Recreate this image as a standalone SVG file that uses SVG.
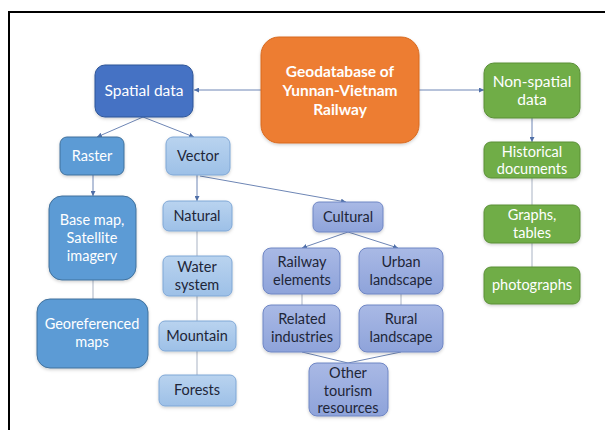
<svg xmlns="http://www.w3.org/2000/svg" width="605" height="430" viewBox="0 0 605 430">
<defs>
<linearGradient id="gLight" x1="0" y1="0" x2="0" y2="1"><stop offset="0" stop-color="#B9D3EF"/><stop offset="1" stop-color="#9DC0E7"/></linearGradient>
<linearGradient id="gCult" x1="0" y1="0" x2="0" y2="1"><stop offset="0" stop-color="#A9B9E5"/><stop offset="1" stop-color="#8EA3DA"/></linearGradient>
<filter id="sh" x="-10%" y="-10%" width="130%" height="130%"><feDropShadow dx="0" dy="1.5" stdDeviation="1.5" flood-color="#000" flood-opacity="0.18"/></filter>
<marker id="ar" viewBox="0 0 6 6" refX="6" refY="3" markerWidth="5" markerHeight="5" orient="auto" markerUnits="userSpaceOnUse"><path d="M0,0 L6,3 L0,6 z" fill="#4F6FA8"/></marker>
</defs>
<style>
text{font-family:"Lato","Liberation Sans",sans-serif;font-size:14.5px;text-anchor:middle}
.w{fill:#ffffff}
.d{fill:#1E2638}
.b{font-weight:bold;font-size:15.5px}
.dark{fill:#4472C4;stroke:#2F5597;stroke-width:1;filter:url(#sh)}
.mid{fill:#5B9BD5;stroke:#41719C;stroke-width:1;filter:url(#sh)}
.lt{fill:url(#gLight);stroke:#7FA7D6;stroke-width:1;filter:url(#sh)}
.cu{fill:url(#gCult);stroke:#6F86C4;stroke-width:1;filter:url(#sh)}
.gr{fill:#70AD47;stroke:#5A8F37;stroke-width:1;filter:url(#sh)}
.or{fill:#ED7D31;stroke:#D86A20;stroke-width:1;filter:url(#sh)}
.c{stroke:#6E86B5;stroke-width:1;fill:none}
.p{stroke:#A9B3C4;stroke-width:1;fill:none}
</style>
<rect x="9" y="12" width="620" height="440" fill="#ffffff" stroke="#000000" stroke-width="2"/>
<g id="connectors">
<line class="c" x1="261" y1="90" x2="194" y2="90" marker-end="url(#ar)"/>
<line class="c" x1="419" y1="90" x2="484" y2="90" marker-end="url(#ar)"/>
<line class="c" x1="532" y1="118" x2="532" y2="142" marker-end="url(#ar)"/>
<line class="p" x1="532" y1="178" x2="532" y2="205"/>
<line class="p" x1="532" y1="243" x2="532" y2="267"/>
<line class="c" x1="143" y1="117" x2="97" y2="137" marker-end="url(#ar)"/>
<line class="c" x1="143" y1="117" x2="194" y2="137" marker-end="url(#ar)"/>
<line class="c" x1="93" y1="175" x2="93" y2="196" marker-end="url(#ar)"/>
<line class="p" x1="93" y1="280" x2="93" y2="299"/>
<line class="c" x1="197" y1="175" x2="197" y2="201" marker-end="url(#ar)"/>
<line class="p" x1="197" y1="231" x2="197" y2="256"/>
<line class="p" x1="197" y1="296" x2="197" y2="321"/>
<line class="p" x1="197" y1="351" x2="197" y2="375"/>
<line class="c" x1="200" y1="176" x2="346" y2="202" marker-end="url(#ar)"/>
<line class="c" x1="348" y1="232" x2="302" y2="248" marker-end="url(#ar)"/>
<line class="c" x1="348" y1="232" x2="398" y2="248" marker-end="url(#ar)"/>
<line class="p" x1="302" y1="294" x2="302" y2="305"/>
<line class="p" x1="401" y1="294" x2="401" y2="305"/>
<line class="c" x1="302" y1="352" x2="348" y2="363"/>
<line class="c" x1="401" y1="352" x2="348" y2="363"/>
</g>
<g id="geodatabase"><rect class="or" x="261" y="37" width="158" height="106" rx="18"/>
<text class="w b" x="340" y="77">Geodatabase of</text><text class="w b" x="340" y="96">Yunnan-Vietnam</text><text class="w b" x="340" y="115">Railway</text></g>
<g id="spatial"><rect class="dark" x="95" y="65" width="98" height="52" rx="10"/><text class="w" x="144" y="96" style="font-size:15.5px">Spatial data</text></g>
<g id="nonspatial"><rect class="gr" x="484" y="63" width="96" height="55" rx="10"/><text class="w" x="532" y="87" style="font-size:15.5px">Non-spatial</text><text class="w" x="532" y="105" style="font-size:15.5px">data</text></g>
<g id="historical"><rect class="gr" x="484" y="142" width="96" height="36" rx="7"/><text class="w" x="532" y="157">Historical</text><text class="w" x="532" y="174">documents</text></g>
<g id="graphs"><rect class="gr" x="484" y="205" width="96" height="38" rx="7"/><text class="w" x="532" y="220">Graphs,</text><text class="w" x="532" y="238">tables</text></g>
<g id="photographs"><rect class="gr" x="484" y="267" width="96" height="37" rx="7"/><text class="w" x="532" y="290">photographs</text></g>
<g id="raster"><rect class="mid" x="60" y="137" width="64" height="38" rx="7"/><text class="w" x="92" y="161">Raster</text></g>
<g id="vector"><rect class="lt" x="166" y="137" width="64" height="38" rx="7"/><text class="d" x="198" y="161">Vector</text></g>
<g id="basemap"><rect class="mid" x="49" y="196" width="87" height="84" rx="13"/><text class="w" x="92" y="225">Base map,</text><text class="w" x="92" y="243">Satellite</text><text class="w" x="92" y="261">imagery</text></g>
<g id="georef"><rect class="mid" x="37" y="299" width="111" height="69" rx="13"/><text class="w" x="92" y="329">Georeferenced</text><text class="w" x="92" y="347">maps</text></g>
<g id="natural"><rect class="lt" x="163" y="201" width="69" height="30" rx="6"/><text class="d" x="197" y="221">Natural</text></g>
<g id="water"><rect class="lt" x="163" y="256" width="69" height="40" rx="6"/><text class="d" x="197" y="272">Water</text><text class="d" x="197" y="290">system</text></g>
<g id="mountain"><rect class="lt" x="159" y="321" width="77" height="30" rx="6"/><text class="d" x="197" y="341">Mountain</text></g>
<g id="forests"><rect class="lt" x="159" y="375" width="77" height="31" rx="6"/><text class="d" x="197" y="395">Forests</text></g>
<g id="cultural"><rect class="cu" x="313" y="202" width="70" height="30" rx="6"/><text class="d" x="348" y="222">Cultural</text></g>
<g id="railway"><rect class="cu" x="263" y="248" width="77" height="46" rx="8"/><text class="d" x="302" y="267">Railway</text><text class="d" x="302" y="285">elements</text></g>
<g id="urban"><rect class="cu" x="359" y="248" width="84" height="46" rx="8"/><text class="d" x="401" y="267">Urban</text><text class="d" x="401" y="285">landscape</text></g>
<g id="related"><rect class="cu" x="263" y="305" width="77" height="47" rx="8"/><text class="d" x="302" y="324">Related</text><text class="d" x="302" y="342">industries</text></g>
<g id="rural"><rect class="cu" x="359" y="305" width="84" height="47" rx="8"/><text class="d" x="401" y="324">Rural</text><text class="d" x="401" y="342">landscape</text></g>
<g id="other"><rect class="cu" x="309" y="363" width="79" height="53" rx="8"/><text class="d" x="348" y="378">Other</text><text class="d" x="348" y="396">tourism</text><text class="d" x="348" y="413">resources</text></g>
</svg>
